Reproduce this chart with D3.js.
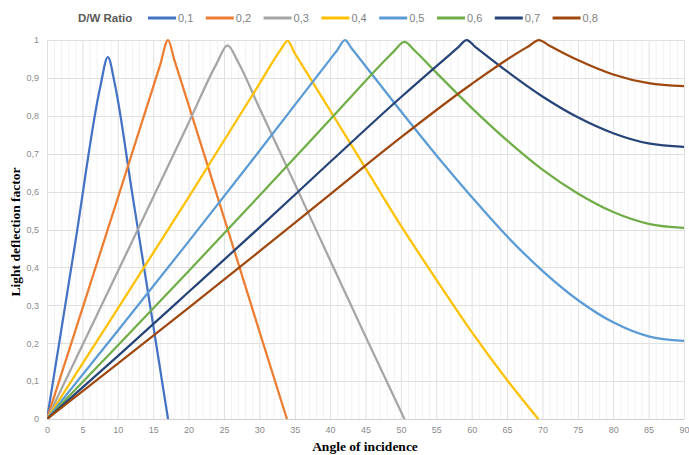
<!DOCTYPE html>
<html>
<head>
<meta charset="utf-8">
<script src="https://cdn.jsdelivr.net/npm/d3@7/dist/d3.min.js"></script>
<style>
  body { margin: 0; background: #fff; }
  svg { display: block; }
  .tick text { font-family: "Liberation Sans", Arial, sans-serif; font-size: 9px; fill: #8a8a8a; }
</style>
</head>
<body>
<svg id="chart" width="689" height="455"></svg>
<script>
// ─── Daten ────────────────────────────────────────────────────────────────────

const ratios = ['0,1', '0,2', '0,3', '0,4', '0,5', '0,6', '0,7', '0,8'];

// [Einfallswinkel, Ablenkfaktor]
const ratio01 = [[0, 0], [4, 0.466], [7.5, 0.874], [8.6, 0.955], [9.6, 0.882], [12, 0.600], [15, 0.248], [17.1, 0]];
const ratio02 = [[0, 0], [5, 0.291], [10, 0.583], [16, 0.935], [17.1, 1.0], [18, 0.947], [19, 0.888], [25, 0.532], [30, 0.232], [33.9, 0]];
const ratio03 = [[0, 0], [10, 0.389], [20, 0.781], [24, 0.939], [25.5, 0.986], [27, 0.942], [30, 0.821], [35, 0.621], [40, 0.419], [45, 0.218], [50.5, 0]];
const ratio04 = [[0, 0], [10, 0.291], [20, 0.585], [30, 0.884], [33, 0.974], [34, 0.998], [35, 0.965], [36, 0.935], [40, 0.814], [45, 0.662], [50, 0.510], [55, 0.368], [60, 0.230], [65, 0.103], [69.4, 0]];
const ratio05 = [[0, 0], [10, 0.233], [20, 0.468], [30, 0.707], [40, 0.949], [41, 0.973], [42.1, 1.0], [43, 0.979], [44, 0.955], [50, 0.812], [55, 0.696], [60, 0.586], [65, 0.482], [70, 0.391], [75, 0.314], [80, 0.255], [85, 0.218], [90, 0.206]];
const ratio06 = [[0, 0], [10, 0.194], [20, 0.390], [30, 0.589], [40, 0.790], [48, 0.951], [49, 0.970], [50.5, 0.995], [52, 0.971], [55, 0.914], [60, 0.821], [65, 0.735], [70, 0.658], [75, 0.595], [80, 0.546], [85, 0.515], [90, 0.504]];
const ratio07 = [[0, 0], [10, 0.166], [20, 0.335], [30, 0.505], [40, 0.678], [50, 0.849], [57, 0.963], [58, 0.979], [59.3, 1.0], [60.5, 0.982], [62, 0.960], [65, 0.917], [70, 0.851], [75, 0.796], [80, 0.754], [85, 0.727], [90, 0.718]];
const ratio08 = [[0, 0], [10, 0.146], [20, 0.293], [30, 0.442], [40, 0.593], [50, 0.743], [60, 0.884], [67, 0.972], [68, 0.983], [69.5, 1.0], [71, 0.985], [72, 0.975], [75, 0.947], [80, 0.909], [85, 0.886], [90, 0.878]];

const seriesData = [ratio01, ratio02, ratio03, ratio04, ratio05, ratio06, ratio07, ratio08];

const xTicks = d3.range(0, 91, 5);
const yTicks = d3.range(0, 11).map(i => i / 10);

const colors = ['#4472C4', '#ED7D31', '#A5A5A5', '#FFC000', '#5B9BD5', '#70AD47', '#264478', '#9E480E'];

// ─── Layout ───────────────────────────────────────────────────────────────────

const svg = d3.select('#chart');
const plot = { left: 47, right: 684, top: 40, bottom: 419 };

const x = d3.scaleLinear().domain([0, 90]).range([plot.left, plot.right]);
const y = d3.scaleLinear().domain([0, 1]).range([plot.bottom, plot.top]);

const locale = d3.formatLocale({ decimal: ',', thousands: '.', grouping: [3], currency: ['', ''] });
const fmt = locale.format('.1~f');

// Gitternetz: feine Linien je Grad, kräftigere alle 5 Grad
svg.append('g')
  .selectAll('line')
  .data(d3.range(0, 91, 1))
  .join('line')
    .attr('x1', d => x(d) + 0.5)
    .attr('x2', d => x(d) + 0.5)
    .attr('y1', plot.top)
    .attr('y2', plot.bottom)
    .attr('stroke', d => d % 5 === 0 ? '#e0e0e0' : '#f2f2f2')
    .attr('stroke-width', 1);

svg.append('g')
  .selectAll('line')
  .data(yTicks)
  .join('line')
    .attr('x1', plot.left)
    .attr('x2', plot.right)
    .attr('y1', d => Math.round(y(d)) + 0.5)
    .attr('y2', d => Math.round(y(d)) + 0.5)
    .attr('stroke', '#e0e0e0')
    .attr('stroke-width', 1);

// Achsen
const xAxis = svg.append('g')
  .attr('transform', `translate(0, ${plot.bottom})`)
  .call(d3.axisBottom(x).tickValues(xTicks).tickSize(0).tickPadding(8).tickFormat(d3.format('d')));
xAxis.select('.domain').attr('stroke', '#d0d0d0');

const yAxis = svg.append('g')
  .attr('transform', `translate(${plot.left}, 0)`)
  .call(d3.axisLeft(y).tickValues(yTicks).tickSize(0).tickPadding(8).tickFormat(fmt));
yAxis.select('.domain').remove();

// Linien
svg.append('clipPath').attr('id', 'clip')
  .append('rect')
    .attr('x', plot.left)
    .attr('y', plot.top - 4)
    .attr('width', plot.right - plot.left)
    .attr('height', plot.bottom - plot.top + 4);

const line = d3.line()
  .x(d => x(d[0]))
  .y(d => y(d[1]))
  .curve(d3.curveMonotoneX);

svg.append('g')
  .attr('clip-path', 'url(#clip)')
  .selectAll('path')
  .data(seriesData)
  .join('path')
    .attr('d', line)
    .attr('fill', 'none')
    .attr('stroke', (_d, i) => colors[i])
    .attr('stroke-width', 2.25)
    .attr('stroke-linejoin', 'round')
    .attr('stroke-linecap', 'round');

// Achsentitel
svg.append('text')
  .attr('x', 365)
  .attr('y', 451)
  .attr('text-anchor', 'middle')
  .style('font-family', '"Liberation Serif", "Times New Roman", serif')
  .style('font-weight', 'bold')
  .style('font-size', '13.5px')
  .attr('fill', '#000')
  .text('Angle of incidence');

svg.append('text')
  .attr('transform', 'translate(20, 232) rotate(-90)')
  .attr('text-anchor', 'middle')
  .style('font-family', '"Liberation Serif", "Times New Roman", serif')
  .style('font-weight', 'bold')
  .style('font-size', '13.5px')
  .attr('fill', '#000')
  .text('Light deflection factor');

// Legende
const legend = svg.append('g').attr('transform', 'translate(0, 18)');

legend.append('text')
  .attr('x', 78)
  .attr('y', 4)
  .style('font-family', '"Liberation Sans", Arial, sans-serif')
  .style('font-weight', 'bold')
  .style('font-size', '11.5px')
  .attr('fill', '#595959')
  .text('D/W Ratio');

const item = legend.selectAll('g.item')
  .data(ratios)
  .join('g')
    .attr('class', 'item')
    .attr('transform', (_d, i) => `translate(${148 + i * 57.8}, 0)`);

item.append('line')
  .attr('x1', 0)
  .attr('x2', 28)
  .attr('y1', 0)
  .attr('y2', 0)
  .attr('stroke', (_d, i) => colors[i])
  .attr('stroke-width', 3);

item.append('text')
  .attr('x', 30)
  .attr('y', 4)
  .style('font-family', '"Liberation Sans", Arial, sans-serif')
  .style('font-size', '11px')
  .attr('fill', '#808080')
  .text(d => d);
</script>
</body>
</html>
